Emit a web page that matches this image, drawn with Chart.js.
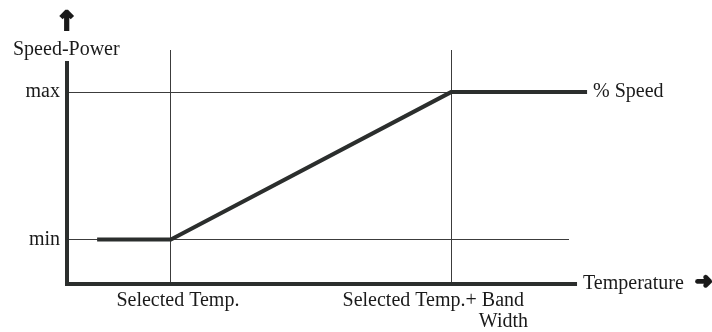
<!DOCTYPE html>
<html>
<head>
<meta charset="utf-8">
<script src="https://cdn.jsdelivr.net/npm/chart.js@4/dist/chart.umd.min.js"></script>
<style>
  html, body { margin: 0; padding: 0; background: #fff; }
  #wrap { width: 712px; height: 332px; }
</style>
</head>
<body>
<div id="wrap"><canvas id="chart"></canvas></div>
<script>
// curva de control: temperatura -> velocidad (unidades relativas 0..100)
const tempPoints  = [6, 20.7, 76.5, 103.6];
const speedPoints = [19, 19, 82, 82];

// ticks / lineas de referencia
const xTickValues = [20.7, 76.5];
const xTickLabels = [["Selected Temp."], ["Selected Temp.+ Band", "Width"]];
const yTickValues = [19, 82];
const yTickLabels = ["min", "max"];

const xTitle = "Temperature";
const yTitle = "Speed-Power";
const seriesLabel = "% Speed";

const FONT = '20px "Liberation Serif", "Times New Roman", serif';
const INK  = '#2b2e2d';

const labelsPlugin = {
  id: 'labels',
  afterDraw(chart) {
    const { ctx, scales: { x, y } } = chart;
    const x0 = x.getPixelForValue(0);
    const y0 = y.getPixelForValue(0);
    ctx.save();

    // ejes gruesos
    ctx.strokeStyle = INK;
    ctx.lineWidth = 4;
    ctx.beginPath();
    ctx.moveTo(x0, y.getPixelForValue(95.3));
    ctx.lineTo(x0, y0 + 2);
    ctx.moveTo(x0 - 2, y0);
    ctx.lineTo(x.getPixelForValue(101.6), y0);
    ctx.stroke();

    ctx.fillStyle = '#1a1a1a';
    ctx.font = FONT;

    // etiquetas eje y
    ctx.textAlign = 'right';
    ctx.textBaseline = 'middle';
    yTickValues.forEach((v, i) => {
      ctx.fillText(yTickLabels[i], x0 - 7, y.getPixelForValue(v));
    });

    // etiquetas eje x
    ctx.textBaseline = 'alphabetic';
    ctx.textAlign = 'center';
    ctx.fillText(xTickLabels[0][0], x.getPixelForValue(xTickValues[0]) + 7, y0 + 22);
    ctx.textAlign = 'right';
    xTickLabels[1].forEach((line, j) => {
      ctx.fillText(line, x.getPixelForValue(xTickValues[1]) + 73 + j * 4, y0 + 22 + j * 21);
    });

    // titulos
    ctx.textAlign = 'left';
    ctx.fillText(yTitle, 13, 55);
    ctx.textBaseline = 'middle';
    ctx.fillText(xTitle, x.getPixelForValue(101.6) + 6, y0);
    ctx.fillText(seriesLabel, x.getPixelForValue(103.6) + 6, y.getPixelForValue(82));

    // flechas (engrosadas con trazo)
    ctx.strokeStyle = '#1a1a1a';
    ctx.lineWidth = 2.2;
    ctx.lineJoin = 'miter';
    ctx.font = 'bold 26px "DejaVu Sans"';
    ctx.textAlign = 'center';
    ctx.fillText('↑', x0, 23);
    ctx.strokeText('↑', x0, 23);
    ctx.font = 'bold 21px "DejaVu Sans"';
    ctx.textAlign = 'left';
    ctx.fillText('➜', 695, y0 - 1);
    ctx.strokeText('➜', 695, y0 - 1);
    ctx.restore();
  }
};

new Chart(document.getElementById('chart'), {
  type: 'line',
  data: {
    datasets: [{
      label: seriesLabel,
      data: tempPoints.map((t, i) => ({ x: t, y: speedPoints[i] })),
      borderColor: INK,
      borderWidth: 4,
      pointRadius: 0,
      tension: 0,
      clip: false
    }]
  },
  options: {
    responsive: true,
    maintainAspectRatio: false,
    animation: false,
    layout: { padding: { left: 67, right: 143, top: 50, bottom: 48 } },
    plugins: { legend: { display: false }, tooltip: { enabled: false } },
    scales: {
      x: {
        type: 'linear', min: 0, max: 100,
        afterBuildTicks: s => { s.ticks = xTickValues.map(v => ({ value: v })); },
        ticks: { display: false },
        grid: { color: '#3c3c3c', lineWidth: 1, drawTicks: false },
        border: { display: false }
      },
      y: {
        type: 'linear', min: 0, max: 100,
        afterBuildTicks: s => { s.ticks = yTickValues.map(v => ({ value: v })); },
        ticks: { display: false },
        grid: { color: '#3c3c3c', lineWidth: 1, drawTicks: false },
        border: { display: false }
      }
    }
  },
  plugins: [labelsPlugin]
});
</script>
</body>
</html>
